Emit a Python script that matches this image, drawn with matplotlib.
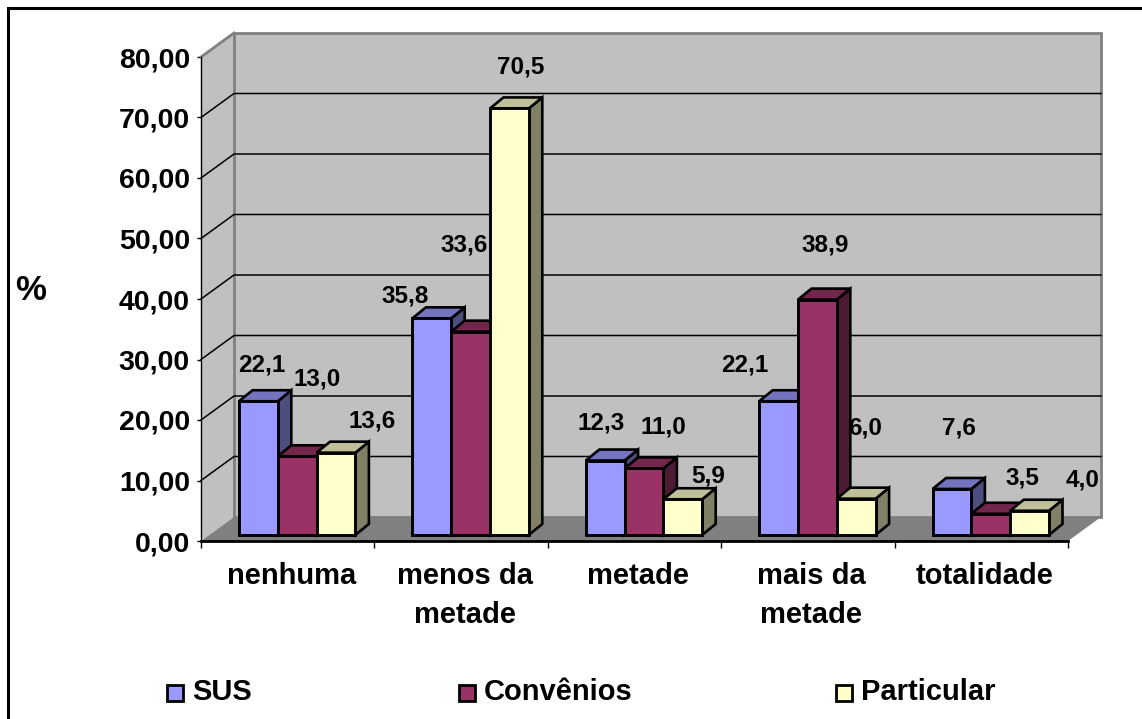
import matplotlib
matplotlib.use("Agg")
import matplotlib.pyplot as plt
from matplotlib.patches import Polygon, Rectangle

plt.rcParams['font.family'] = ['Liberation Sans', 'DejaVu Sans']
plt.rcParams['font.weight'] = 'bold'

categorias = ['nenhuma', 'menos da\nmetade', 'metade', 'mais da\nmetade', 'totalidade']
series = ['SUS', 'Convênios', 'Particular']
sus = [22.1, 35.8, 12.3, 22.1, 7.6]
convenios = [13.0, 33.6, 11.0, 38.9, 3.5]
particular = [13.6, 70.5, 5.9, 6.0, 4.0]
yticks = [0, 10, 20, 30, 40, 50, 60, 70, 80]

# cores: frente, topo, lateral
cores = [('#9999FF', '#7373BF', '#4D4D80'),
         ('#993366', '#73264C', '#4D1A33'),
         ('#FFFFCC', '#BFBF99', '#808066')]

# deslocamento dos rótulos em relação ao topo de cada barra (pixels)
desloc = [[(3, 36), (20, 77), (36, 32)],
          [(-27, 22), (-6, 87), (11, 41)],
          [(-4, 38), (19, 41), (25, 23)],
          [(-34, 36), (8, 55), (9, 71)],
          [(7, 61), (32, 36), (53, 31)]]

W, H = 1142, 719
fig = plt.figure(figsize=(W / 100, H / 100), dpi=100)

# camada de fundo em pixels: moldura, legenda e o símbolo %
bg = fig.add_axes([0, 0, 1, 1])
bg.set_xlim(0, W)
bg.set_ylim(H, 0)
bg.axis('off')
bg.add_patch(Rectangle((8, 8), 1200, 760, fc='white', ec='black', lw=2.2))
bg.text(31, 290, '%', fontsize=25, ha='center', va='center')

pos_legenda = [(167, 192), (459, 484), (836, 861)]
for (xm, xt), nome, cor in zip(pos_legenda, series, cores):
    bg.add_patch(Rectangle((xm, 685), 15.5, 15.5, fc=cor[0], ec='black', lw=2))
    bg.text(xt, 692, nome, fontsize=21, va='center', ha='left')

ax = fig.add_axes([201 / W, (H - 541) / H, 867 / W, 484 / H])
ax.set_xlim(0, 5)
ax.set_ylim(0, 80)
ax.patch.set_visible(False)

# profundidade da caixa e das barras em unidades dos eixos
caixa_dx, caixa_dy = 33 / 173.4, 24 / 6.05
barra_dx, barra_dy = 13.5 / 173.4, 11 / 6.05
barra_w = 38.8 / 173.4
barra_x0 = 38 / 173.4
base = 1.0

# paredes e piso
ax.add_patch(Polygon([(0, 0), (caixa_dx, caixa_dy), (caixa_dx, 80 + caixa_dy), (0, 80)],
                     fc='#C0C0C0', ec='none', clip_on=False, zorder=1))
ax.add_patch(Rectangle((caixa_dx, caixa_dy), 5, 80, fc='#C0C0C0', ec='#808080', lw=2,
                       clip_on=False, zorder=1))
for v in yticks[1:-1]:
    ax.plot([0, caixa_dx, 5 + caixa_dx], [v, v + caixa_dy, v + caixa_dy], color='black', lw=1.1,
            clip_on=False, zorder=2)
ax.plot([0, caixa_dx], [80, 80 + caixa_dy], color='#808080', lw=2, clip_on=False, zorder=2)
ax.add_patch(Polygon([(0, 0), (caixa_dx, caixa_dy), (5 + caixa_dx, caixa_dy), (5, 0)],
                     fc='#808080', ec='none', clip_on=False, zorder=3))

# barras, da esquerda para a direita para as faces se sobreporem bem
for i in range(len(categorias)):
    for j, valores in enumerate([sus, convenios, particular]):
        v = valores[i]
        x0 = i + barra_x0 + j * barra_w
        x1 = x0 + barra_w
        top = base + v
        z = 4 + i + j * 0.1
        ax.add_patch(Polygon([(x1, base), (x1 + barra_dx, base + barra_dy),
                              (x1 + barra_dx, top + barra_dy), (x1, top)],
                             fc=cores[j][2], ec='black', lw=1.9, clip_on=False, zorder=z))
        ax.add_patch(Polygon([(x0, top), (x0 + barra_dx, top + barra_dy),
                              (x1 + barra_dx, top + barra_dy), (x1, top)],
                             fc=cores[j][1], ec='black', lw=1.9, clip_on=False, zorder=z))
        ax.bar(x0, v, bottom=base, width=barra_w, align='edge', color=cores[j][0],
               edgecolor='black', linewidth=2.1, clip_on=False, zorder=z + 0.01)
        ax.annotate(f'{v:.1f}'.replace('.', ','), xy=(x0 + barra_w / 2, top),
                    xytext=desloc[i][j], textcoords='offset pixels',
                    ha='center', va='center', fontsize=17.5, zorder=20)

for lado in ['top', 'right']:
    ax.spines[lado].set_visible(False)
ax.spines['left'].set_linewidth(1)
ax.spines['bottom'].set_linewidth(2)
for s in ax.spines.values():
    s.set_zorder(3.5)

ax.set_yticks(yticks)
ax.set_yticklabels([f'{v:.2f}'.replace('.', ',') for v in yticks], fontsize=20.5)
ax.tick_params(axis='y', length=3, width=1, pad=5)
ax.set_xticks(range(6))
ax.set_xticklabels([])
ax.tick_params(axis='x', which='major', length=5, width=1)
ax.set_xticks([i + 0.52 for i in range(5)], minor=True)
ax.set_xticklabels(categorias, minor=True, fontsize=21, linespacing=1.5)
ax.tick_params(axis='x', which='minor', length=0, pad=15)

fig.savefig('out.png', dpi=100)
